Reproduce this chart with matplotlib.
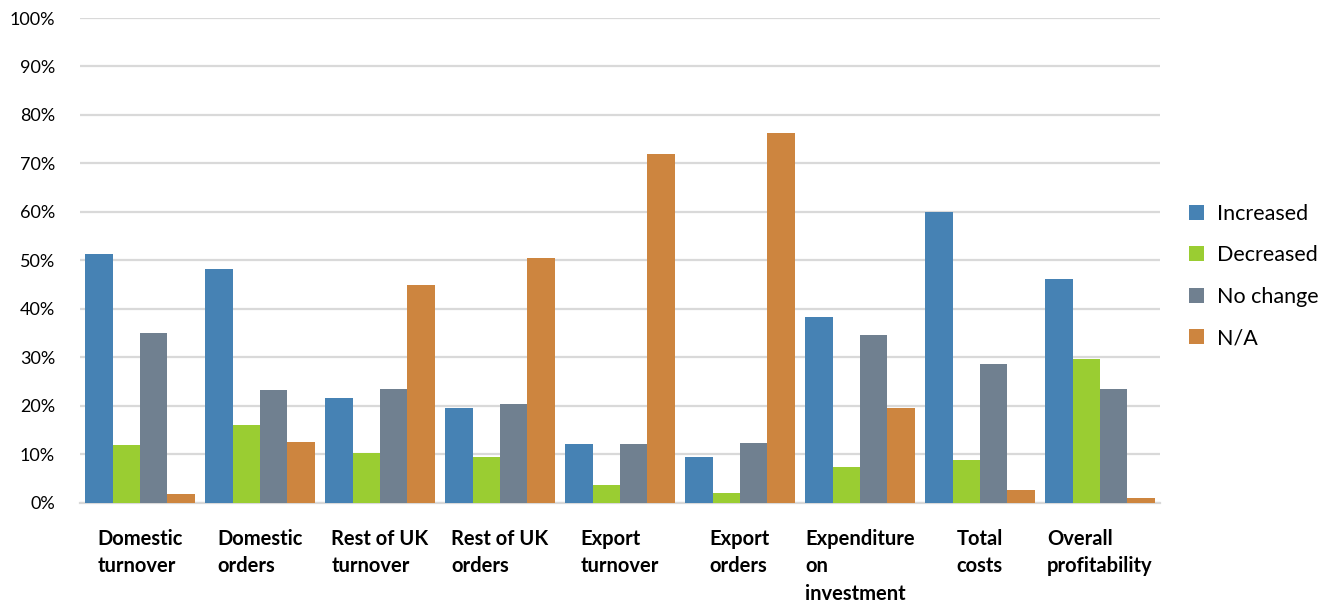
import numpy as np
import matplotlib.pyplot as plt
from matplotlib.patches import Patch

plt.rcParams['font.family'] = ['Lato', 'DejaVu Sans']

# Datos (fracciones)
categorias = ["Domestic\nturnover", "Domestic\norders", "Rest of UK\nturnover",
              "Rest of UK\norders", "Export\nturnover", "Export\norders",
              "Expenditure\non\ninvestment", "Total\ncosts", "Overall\nprofitability"]
series = ["Increased", "Decreased", "No change", "N/A"]

increased = [0.514, 0.483, 0.216, 0.195, 0.120, 0.095, 0.382, 0.600, 0.462]
decreased = [0.119, 0.160, 0.103, 0.095, 0.037, 0.019, 0.074, 0.088, 0.297]
no_change = [0.351, 0.233, 0.234, 0.203, 0.121, 0.124, 0.346, 0.287, 0.235]
n_a = [0.018, 0.125, 0.449, 0.504, 0.719, 0.762, 0.195, 0.026, 0.010]

colores = ["#4682B4", "#9ACD32", "#708090", "#CD853F"]

fig = plt.figure(figsize=(13.31, 6.07), dpi=100)
ax = fig.add_axes([0.0601, 0.172, 0.8114, 0.7983])

x = np.arange(len(categorias))
w = 0.228
for i, (vals, c) in enumerate(zip([increased, decreased, no_change, n_a], colores)):
    ax.bar(x + (i - 1.5) * w, vals, width=w, color=c, zorder=3)

ax.set_xlim(-0.5, len(categorias) - 0.5)
ax.set_ylim(0, 1)
ax.set_yticks(np.arange(0, 1.01, 0.1))
ax.set_yticklabels([f"{int(round(v * 100))}%" for v in np.arange(0, 1.01, 0.1)],
                   fontsize=13)
ax.yaxis.grid(True, color="#d9d9d9", linewidth=1.6, zorder=0)
ax.tick_params(axis="y", length=0, pad=18)
ax.set_xticks([])
for s in ["top", "right", "left"]:
    ax.spines[s].set_visible(False)
ax.spines["bottom"].set_color("#d9d9d9")
ax.spines["bottom"].set_linewidth(1.6)

for xi, lab in zip(x, categorias):
    ax.text(xi, -0.055, lab, ha="center", va="top", multialignment="left",
            fontsize=14.5, fontweight="bold", linespacing=1.45,
            transform=ax.get_xaxis_transform())

handles = [Patch(facecolor=c, edgecolor="none") for c in colores]
fig.legend(handles, series, loc="center left", bbox_to_anchor=(0.879, 0.545),
           frameon=False, fontsize=15.5, handlelength=0.7, handleheight=0.7,
           handletextpad=0.6, labelspacing=1.0)

plt.savefig("out.png", dpi=100)
